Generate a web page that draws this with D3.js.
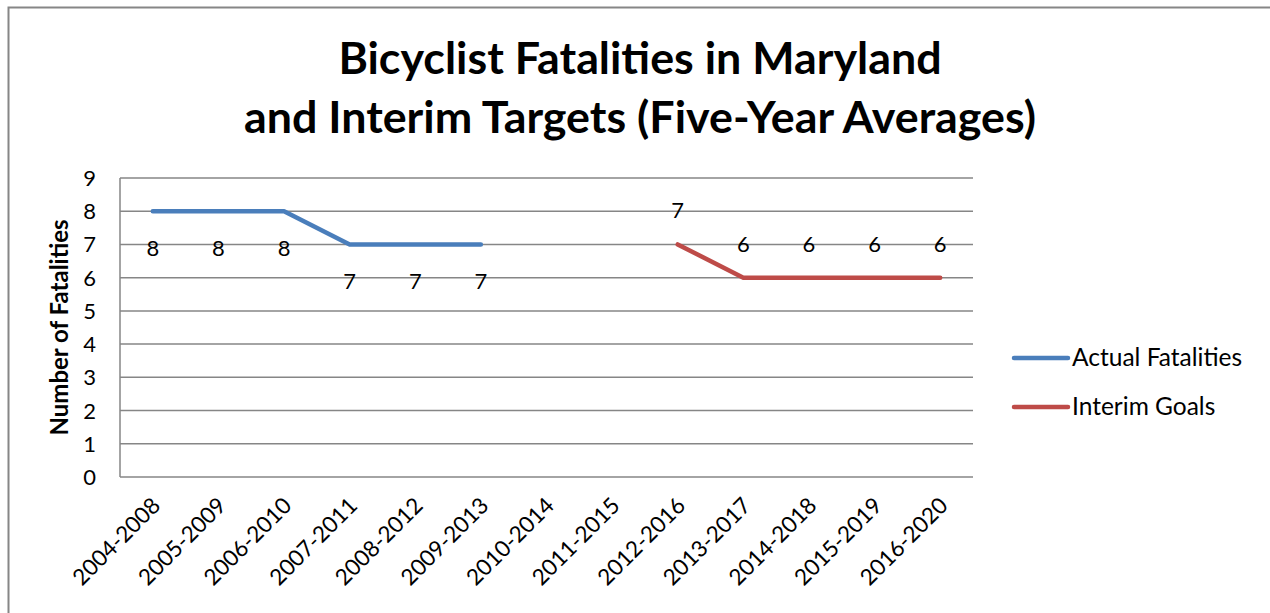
<!DOCTYPE html>
<meta charset="utf-8">
<script src="https://d3js.org/d3.v7.min.js"></script>
<style>
	body { margin: 0; background: #fff; }
	text { font-family: Lato, "Open Sans", sans-serif; fill: #000; }
	.grid line { stroke: #868686; stroke-width: 1.5px; }
</style>
<body>
	<div id="chart"></div>
</body>
<script>
	const width = 1270, height = 613;

	// data
	const periods = ["2004-2008", "2005-2009", "2006-2010", "2007-2011", "2008-2012", "2009-2013",
		"2010-2014", "2011-2015", "2012-2016", "2013-2017", "2014-2018", "2015-2019", "2016-2020"];
	const actual = [8, 8, 8, 7, 7, 7, null, null, null, null, null, null, null];
	const interim = [null, null, null, null, null, null, null, null, 7, 6, 6, 6, 6];
	const yTicks = [0, 1, 2, 3, 4, 5, 6, 7, 8, 9];

	const margin = {left: 120, top: 178, right: 973, bottom: 477};

	const svg = d3.select("#chart").append("svg")
		.attr("width", width)
		.attr("height", height);

	// outer chart border (runs off right/bottom)
	svg.append("rect")
		.attr("x", 8.5).attr("y", 7.5)
		.attr("width", 1300).attr("height", 700)
		.attr("fill", "none")
		.attr("stroke", "#868686")
		.attr("stroke-width", 2);

	const x = d3.scaleBand()
		.domain(periods)
		.range([margin.left, margin.right]);

	const y = d3.scaleLinear()
		.domain([0, 9])
		.range([margin.bottom, margin.top]);

	// title
	const title = svg.append("text")
		.attr("text-anchor", "middle")
		.style("font-weight", "bold")
		.style("font-size", "44.8px");
	title.append("tspan").attr("x", 640).attr("y", 74).text("Bicyclist Fatalities in Maryland");
	title.append("tspan").attr("x", 640).attr("y", 133).text("and Interim Targets (Five-Year Averages)");

	// gridlines
	svg.append("g")
		.attr("class", "grid")
		.selectAll("line")
		.data(yTicks)
		.enter().append("line")
		.attr("x1", margin.left).attr("x2", margin.right)
		.attr("y1", d => y(d)).attr("y2", d => y(d));

	// y axis line
	svg.append("line")
		.attr("x1", margin.left).attr("x2", margin.left)
		.attr("y1", margin.top).attr("y2", margin.bottom)
		.attr("stroke", "#868686").attr("stroke-width", 1.5);

	// y tick labels
	svg.selectAll(".ytick")
		.data(yTicks)
		.enter().append("text")
		.attr("class", "ytick")
		.attr("x", 96)
		.attr("y", d => y(d) + 8)
		.attr("text-anchor", "end")
		.style("font-size", "22px")
		.text(d => d);

	// y axis title
	svg.append("text")
		.attr("transform", "translate(68," + ((margin.top + margin.bottom) / 2) + ") rotate(-90)")
		.attr("text-anchor", "middle")
		.style("font-weight", "bold")
		.style("font-size", "24px")
		.text("Number of Fatalities");

	// x tick labels
	svg.selectAll(".xtick")
		.data(periods)
		.enter().append("text")
		.attr("class", "xtick")
		.attr("text-anchor", "end")
		.attr("transform", d => "translate(" + (x(d) + x.bandwidth() / 2 + 9) + ",507) rotate(-45)")
		.style("font-size", "22.5px")
		.text(d => d);

	const line = d3.line()
		.defined(d => d[1] != null)
		.x(d => x(d[0]) + x.bandwidth() / 2)
		.y(d => y(d[1]));

	const series = [
		{name: "Actual Fatalities", values: actual, color: "#4A7EBB", dy: 45},
		{name: "Interim Goals", values: interim, color: "#BE4B48", dy: -26}
	];

	series.forEach(function(s, i) {
		const pts = periods.map((p, j) => [p, s.values[j]]);
		svg.append("path")
			.datum(pts)
			.attr("d", line)
			.attr("fill", "none")
			.attr("stroke", s.color)
			.attr("stroke-width", 4.5)
			.attr("stroke-linecap", "round")
			.attr("stroke-linejoin", "round");

		svg.selectAll(".lbl" + i)
			.data(pts.filter(d => d[1] != null))
			.enter().append("text")
			.attr("class", "lbl" + i)
			.attr("x", d => x(d[0]) + x.bandwidth() / 2)
			.attr("y", d => y(d[1]) + s.dy)
			.attr("text-anchor", "middle")
			.style("font-size", "22px")
			.text(d => d[1]);

		// legend
		const ly = 358 + i * 49;
		svg.append("line")
			.attr("x1", 1014).attr("x2", 1068)
			.attr("y1", ly).attr("y2", ly)
			.attr("stroke", s.color)
			.attr("stroke-width", 4.5)
			.attr("stroke-linecap", "round");
		svg.append("text")
			.attr("x", 1072)
			.attr("y", ly + 8)
			.style("font-size", "24.5px")
			.text(s.name);
	});
</script>
